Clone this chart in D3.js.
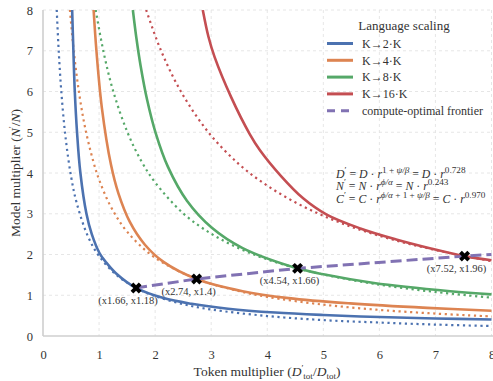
<!DOCTYPE html>
<html><head><meta charset="utf-8">
<script src="https://cdn.jsdelivr.net/npm/d3@7"></script>
<style>body{margin:0;background:#fff}svg{display:block}</style>
</head><body><div id="chart"></div>
<script>
// ---------- data ----------
const seriesNames = ["K\u21922\u00B7K","K\u21924\u00B7K","K\u21928\u00B7K","K\u219216\u00B7K"];
const seriesColors = ["#4C72B0","#DD8452","#55A868","#C44E52"];
const frontierColor = "#8172B3";
const xTicks = [0,1,2,3,4,5,6,7,8];
const yTicks = [0,1,2,3,4,5,6,7,8];

// solid iso-loss curves [token multiplier, model multiplier]
const solid2 = [[0.52,8],[0.542,7],[0.567,6],[0.607,5],[0.667,4],[0.775,3],[0.87,2.5],[1.01,2.03],[1.13,1.8],[1.30,1.54],[1.66,1.18],[2.15,0.93],[2.65,0.79],[3.3,0.67],[4.14,0.575],[5,0.515],[6,0.465],[7,0.43],[8,0.405]];
const solid4 = [[0.903,8],[0.953,7],[1.05,5.6],[1.213,4.2],[1.345,3.5],[1.549,2.8],[1.818,2.24],[2.149,1.82],[2.74,1.40],[3.56,1.10],[4.38,0.93],[5.48,0.80],[6.85,0.69],[8,0.62]];
const solid8 = [[1.603,8],[1.667,7.3],[1.74,6.64],[1.855,5.81],[2.01,4.98],[2.229,4.15],[2.567,3.32],[3.012,2.656],[3.561,2.158],[4.54,1.66],[5,1.513],[5.902,1.301],[7.264,1.099],[8,1.021]];
const solid16 = [[2.85,8],[2.95,7.35],[3.06,6.85],[3.36,5.85],[3.69,4.95],[3.87,4.56],[4.25,3.92],[4.64,3.38],[5.06,2.98],[5.66,2.64],[6.3,2.37],[6.9,2.155],[7.52,1.96],[8,1.86]];

// dotted iso-compute curves
const dotted2 = [[0.245,8],[0.28,7],[0.33,5.94],[0.4,4.9],[0.5,3.92],[0.6,3.27],[0.8,2.45],[1.0,1.96],[1.3,1.51],[1.66,1.18],[2,0.98],[2.5,0.78],[3,0.65],[4,0.49],[5,0.39],[6,0.33],[7,0.28],[8,0.245]];
const dotted4 = [[0.48,8],[0.55,6.98],[0.64,6.0],[0.75,5.12],[0.9,4.27],[1.0,3.84],[1.2,3.2],[1.5,2.56],[2.0,1.92],[2.74,1.40],[3.5,1.10],[4,0.96],[5,0.77],[6,0.64],[7,0.55],[8,0.48]];
const dotted8 = [[0.94,8],[1.08,6.97],[1.25,6.02],[1.5,5.02],[1.75,4.30],[2,3.77],[2.5,3.01],[3,2.51],[3.5,2.15],[4,1.88],[4.54,1.66],[5,1.51],[6,1.26],[7,1.08],[8,0.94]];
const dotted16 = [[1.84,8],[2.1,7.02],[2.46,6.0],[2.95,5.0],[3.5,4.21],[4,3.69],[4.5,3.28],[5,2.95],[5.5,2.68],[6,2.46],[6.5,2.27],[7,2.11],[7.52,1.96],[8,1.84]];

// compute-optimal frontier
const frontierX = [1.66,2.74,4.54,7.52,8];
const frontierY = [1.18,1.40,1.66,1.96,2.0];
const markerLabels = ["(x1.66, x1.18)","(x2.74, x1.4)","(x4.54, x1.66)","(x7.52, x1.96)"];

const solids = [solid2, solid4, solid8, solid16];
const dotteds = [dotted2, dotted4, dotted8, dotted16];

// ---------- layout ----------
const W = 493, H = 381;
const L = 43, R = 491.5, T = 10, B = 336;
const FONT = "'Liberation Serif','Times New Roman',serif";
const TXT = "#333";

const svg = d3.select("#chart").append("svg").attr("width", W).attr("height", H)
  .style("font-family", FONT);

const x = d3.scaleLinear().domain([0, 8]).range([L, R]);
const y = d3.scaleLinear().domain([0, 8]).range([B, T]);

svg.append("defs").append("clipPath").attr("id","clip")
  .append("rect").attr("x", L).attr("y", T).attr("width", R - L + 2).attr("height", B - T);

// grid
const grid = svg.append("g");
grid.selectAll(".gx").data(xTicks.filter(d => d > 0)).join("line")
  .attr("x1", d => x(d)).attr("x2", d => x(d)).attr("y1", T).attr("y2", B)
  .attr("stroke", "#e3e3e3").attr("stroke-width", 0.9).attr("stroke-dasharray", "3,3");
grid.selectAll(".gy").data(yTicks.filter(d => d > 0)).join("line")
  .attr("x1", L).attr("x2", W).attr("y1", d => y(d)).attr("y2", d => y(d))
  .attr("stroke", "#e3e3e3").attr("stroke-width", 0.9).attr("stroke-dasharray", "3,3");

// axes (d3 axes, styled)
const xAxis = svg.append("g").attr("transform", `translate(0,${B})`)
  .call(d3.axisBottom(x).tickValues(xTicks).tickSize(0).tickPadding(14).tickFormat(d3.format("d")));
const yAxis = svg.append("g").attr("transform", `translate(${L},0)`)
  .call(d3.axisLeft(y).tickValues(yTicks).tickSize(0).tickPadding(10).tickFormat(d3.format("d")));
[xAxis, yAxis].forEach(a => {
  a.attr("font-family", null);
  a.select(".domain").attr("stroke", "#cfcfcf").attr("stroke-width", 1.6);
  a.selectAll("text").attr("fill", TXT).style("font-family", FONT).style("font-size", "12.5px");
});
yAxis.select(".domain").attr("d", `M0,${T}V${B}`);
xAxis.select(".domain").attr("d", `M${L},0H${W}`);

// curves
const plot = svg.append("g").attr("clip-path", "url(#clip)");
const line = d3.line().x(d => x(d[0])).y(d => y(d[1])).curve(d3.curveCatmullRom.alpha(0.5));

dotteds.forEach((s, i) => {
  plot.append("path").datum(s).attr("d", line).attr("fill", "none")
    .attr("stroke", seriesColors[i]).attr("stroke-width", 2.2)
    .attr("stroke-dasharray", "2.2,3.6");
});
solids.forEach((s, i) => {
  plot.append("path").datum(s).attr("d", line).attr("fill", "none")
    .attr("stroke", seriesColors[i]).attr("stroke-width", 2.6);
});
const frontier = frontierX.map((v, i) => [v, frontierY[i]]);
plot.append("path").datum(frontier)
  .attr("d", d3.line().x(d => x(d[0])).y(d => y(d[1])))
  .attr("fill", "none").attr("stroke", frontierColor).attr("stroke-width", 3)
  .attr("stroke-dasharray", "11,5");

// markers
const markerPts = frontier.slice(0, 4);
svg.selectAll(".mk").data(markerPts).join("path")
  .attr("d", d3.symbol().type(d3.symbolCross).size(75))
  .attr("transform", d => `translate(${x(d[0])},${y(d[1])}) rotate(45)`)
  .attr("fill", "#000");
svg.selectAll(".ml").data(markerPts).join("text")
  .attr("x", d => x(d[0]) - 8).attr("y", d => y(d[1]) + 16)
  .attr("text-anchor", "middle").attr("fill", TXT).style("font-size", "10.5px")
  .text((d, i) => markerLabels[i]);

// legend
const lg = svg.append("g");
lg.append("text").attr("x", 404).attr("y", 30).attr("text-anchor", "middle")
  .attr("fill", TXT).style("font-size", "13px").text("Language scaling");
const legendItems = seriesNames.map((n, i) => ({name: n, color: seriesColors[i], dash: null}))
  .concat([{name: "compute-optimal frontier", color: frontierColor, dash: "8,6"}]);
legendItems.forEach((it, i) => {
  const yy = 43.5 + i * 16.8;
  lg.append("line").attr("x1", 327).attr("x2", 353).attr("y1", yy).attr("y2", yy)
    .attr("stroke", it.color).attr("stroke-width", 3).attr("stroke-dasharray", it.dash);
  lg.append("text").attr("x", 362).attr("y", yy + 4.2).attr("fill", TXT)
    .style("font-size", "12px").text(it.name);
});

// formulas
function rich(xp, yp, parts, size) {
  const t = svg.append("text").attr("x", xp).attr("y", yp).attr("fill", TXT).style("font-size", size + "px");
  let cur = 0;
  parts.forEach(p => {
    const target = p.sup ? -5 : 0;
    const ts = t.append("tspan").attr("dy", target - cur).text(p.t);
    cur = target;
    if (p.it) ts.style("font-style", "italic");
    if (p.sup) ts.style("font-size", (size * 0.78) + "px");
  });
  return t;
}
const fs = 11.8;
rich(336, 177.5, [
  {t:"D", it:1},{t:"\u2032", sup:1},{t:" = "},{t:"D", it:1},{t:" \u00B7 "},{t:"r", it:1},
  {t:"1 + ", sup:1},{t:"\u03C8/\u03B2", sup:1, it:1},{t:" = "},{t:"D", it:1},{t:" \u00B7 "},{t:"r", it:1},{t:"0.728", sup:1}
], fs);
rich(336, 190, [
  {t:"N", it:1},{t:"\u2032", sup:1},{t:" = "},{t:"N", it:1},{t:" \u00B7 "},{t:"r", it:1},
  {t:"\u03D5/\u03B1", sup:1, it:1},{t:"   = "},{t:"N", it:1},{t:" \u00B7 "},{t:"r", it:1},{t:"0.243", sup:1}
], fs);
rich(336, 203, [
  {t:"C", it:1},{t:"\u2032", sup:1},{t:" = "},{t:"C", it:1},{t:" \u00B7 "},{t:"r", it:1},
  {t:"\u03D5/\u03B1", sup:1, it:1},{t:" + 1 + ", sup:1},{t:"\u03C8/\u03B2", sup:1, it:1},{t:" = "},{t:"C", it:1},{t:" \u00B7 "},{t:"r", it:1},{t:"0.970", sup:1}
], fs);

// axis titles
const xl = svg.append("text").attr("x", 267).attr("y", 376).attr("text-anchor", "middle")
  .attr("fill", TXT).style("font-size", "13.5px");
xl.append("tspan").text("Token multiplier  (");
xl.append("tspan").style("font-style", "italic").text("D");
xl.append("tspan").attr("dy", -5).style("font-size", "9px").text("\u2032");
xl.append("tspan").attr("dy", 8).style("font-size", "9px").text("tot");
xl.append("tspan").attr("dy", -3).text("/");
xl.append("tspan").style("font-style", "italic").text("D");
xl.append("tspan").attr("dy", 3).style("font-size", "9px").text("tot");
xl.append("tspan").attr("dy", -3).text(")");

const yl = svg.append("text").attr("transform", "translate(19.5,173) rotate(-90)")
  .attr("text-anchor", "middle").attr("fill", TXT).style("font-size", "13.5px");
yl.append("tspan").text("Model multiplier  (");
yl.append("tspan").style("font-style", "italic").text("N");
yl.append("tspan").attr("dy", -5).style("font-size", "9px").text("\u2032");
yl.append("tspan").attr("dy", 5).text("/");
yl.append("tspan").style("font-style", "italic").text("N");
yl.append("tspan").text(")");
</script></body></html>
